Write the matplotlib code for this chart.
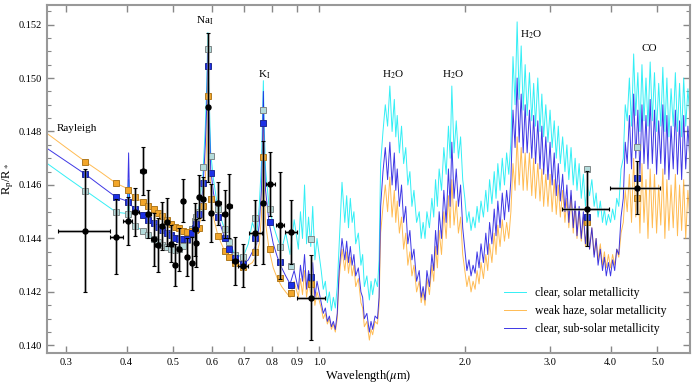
import numpy as np
import matplotlib
matplotlib.use("Agg")
import matplotlib.pyplot as plt
from matplotlib.ticker import FixedLocator, MultipleLocator, FormatStrFormatter

plt.rcParams['font.family'] = ['Liberation Serif', 'DejaVu Serif']
plt.rcParams['mathtext.fontset'] = 'stix'

# observed transit depths (black points)
obs_wl = [0.329, 0.381, 0.402, 0.417, 0.432, 0.444, 0.455, 0.464, 0.474, 0.485,
          0.494, 0.504, 0.514, 0.524, 0.533, 0.545, 0.553, 0.558, 0.565, 0.576,
          0.590, 0.598, 0.618, 0.638, 0.652, 0.671, 0.697, 0.738, 0.767, 0.792,
          0.832, 0.875, 0.964, 3.57, 4.53]
obs_rp = [0.14429, 0.14407, 0.14465, 0.14500, 0.14652, 0.14492, 0.14397, 0.14376, 0.14447, 0.14461,
          0.14381, 0.14301, 0.14360, 0.14541, 0.14330, 0.14307, 0.14434, 0.14382, 0.14556, 0.14549,
          0.14890, 0.14495, 0.14532, 0.14492, 0.14520, 0.14316, 0.14298, 0.14422, 0.14533, 0.14604,
          0.14450, 0.14425, 0.14179, 0.14511, 0.14590]
obs_err = [0.0023, 0.0014, 0.0009, 0.0009, 0.0009, 0.0009, 0.0010, 0.0010, 0.0009, 0.0009,
           0.0007, 0.0008, 0.0008, 0.0008, 0.0007, 0.0010, 0.0010, 0.0009, 0.0008, 0.0008,
           0.0028, 0.0011, 0.0008, 0.0009, 0.0012, 0.0009, 0.0008, 0.0012, 0.0023, 0.0012,
           0.0020, 0.0012, 0.0016, 0.0014, 0.0010]
obs_wl_err = [0.040, 0.012, 0.008, 0.007, 0.006, 0.005, 0.005, 0.005, 0.005, 0.005,
              0.005, 0.005, 0.005, 0.005, 0.005, 0.005, 0.004, 0.004, 0.004, 0.005,
              0.003, 0.005, 0.008, 0.008, 0.008, 0.010, 0.017, 0.023, 0.005, 0.017,
              0.016, 0.024, 0.062, 0.40, 0.54]

# binned models at the data wavelengths
bin_clear = [0.14579, 0.14498, 0.14492, 0.14447, 0.14429, 0.14413, 0.14398, 0.14388, 0.14376, 0.14367,
             0.14362, 0.14357, 0.14360, 0.14372, 0.14395, 0.14436, 0.14465, 0.14480, 0.14500, 0.14666,
             0.15108, 0.14708, 0.14510, 0.14434, 0.14386, 0.14338, 0.14332, 0.14475, 0.14879, 0.14509,
             0.14369, 0.14298, 0.14397, 0.14660, 0.14741]
bin_haze = [0.14687, 0.14606, 0.14581, 0.14554, 0.14536, 0.14521, 0.14509, 0.14496, 0.14484, 0.14469,
            0.14453, 0.14444, 0.14438, 0.14429, 0.14425, 0.14428, 0.14432, 0.14436, 0.14438, 0.14521,
            0.14932, 0.14548, 0.14410, 0.14353, 0.14330, 0.14310, 0.14295, 0.14348, 0.14704, 0.14361,
            0.14253, 0.14197, 0.14230, 0.14460, 0.14550]
bin_sub = [0.14640, 0.14554, 0.14538, 0.14509, 0.14487, 0.14469, 0.14459, 0.14444, 0.14432, 0.14422,
           0.14412, 0.14402, 0.14397, 0.14397, 0.14399, 0.14419, 0.14440, 0.14455, 0.14490, 0.14606,
           0.15045, 0.14644, 0.14481, 0.14401, 0.14360, 0.14326, 0.14305, 0.14400, 0.14833, 0.14463,
           0.14313, 0.14226, 0.14257, 0.14481, 0.14625]

# model spectra
model_wl = [0.274, 0.300, 0.329, 0.355, 0.381, 0.398, 0.402, 0.404, 0.406, 0.417,
            0.432, 0.444, 0.455, 0.464, 0.474, 0.485, 0.494, 0.504, 0.514, 0.524,
            0.533, 0.545, 0.555, 0.565, 0.575, 0.582, 0.586, 0.589, 0.592, 0.597,
            0.605, 0.618, 0.638, 0.652, 0.671, 0.697,
            0.714, 0.728, 0.743, 0.752, 0.760, 0.764, 0.767, 0.770, 0.775, 0.788,
            0.804, 0.820, 0.837, 0.853, 0.871, 0.888,
            0.906, 0.915, 0.924, 0.933, 0.942, 0.951, 0.961, 0.970, 0.980, 0.990,
            1.00, 1.01, 1.02, 1.03, 1.04, 1.05, 1.06, 1.07, 1.08, 1.09,
            1.10, 1.115, 1.13, 1.14, 1.15, 1.16, 1.17, 1.18, 1.19, 1.205,
            1.22, 1.23, 1.24, 1.255, 1.27, 1.28, 1.29, 1.305, 1.32, 1.33,
            1.34, 1.355, 1.37, 1.385, 1.40, 1.415, 1.43, 1.44, 1.45, 1.465,
            1.48, 1.495, 1.51, 1.525, 1.54, 1.555, 1.57, 1.59, 1.61, 1.625,
            1.64, 1.655, 1.67, 1.69, 1.71, 1.725, 1.74, 1.755, 1.77, 1.79,
            1.81, 1.83, 1.85, 1.865, 1.88, 1.90, 1.92, 1.94, 1.96, 1.98,
            2.00, 2.02, 2.04, 2.06, 2.08, 2.10, 2.12, 2.14, 2.16, 2.185,
            2.21, 2.23, 2.25, 2.275, 2.30, 2.32, 2.34, 2.365, 2.39, 2.415,
            2.44, 2.465, 2.49, 2.515, 2.54, 2.565, 2.59, 2.615, 2.64, 2.665,
            2.69, 2.72, 2.75, 2.775, 2.80, 2.83, 2.86, 2.885, 2.91, 2.94,
            2.97, 3.00, 3.03, 3.06, 3.09, 3.12, 3.15, 3.185, 3.22, 3.25,
            3.28, 3.315, 3.35, 3.38, 3.41, 3.445, 3.48, 3.515, 3.55, 3.585,
            3.62, 3.66, 3.70, 3.735, 3.77, 3.81, 3.85, 3.885, 3.92, 3.96,
            4.00, 4.04, 4.08, 4.12, 4.16, 4.205, 4.25, 4.29, 4.33, 4.375,
            4.42, 4.465, 4.51, 4.555, 4.60, 4.645, 4.69, 4.735, 4.78, 4.83,
            4.88, 4.93, 4.98, 5.03, 5.08, 5.13, 5.18, 5.23, 5.28, 5.335,
            5.39, 5.445, 5.50, 5.555, 5.61, 5.665, 5.72, 5.78, 5.84]

model_clear = [0.14681, 0.14630, 0.14579, 0.14537, 0.14498, 0.14494, 0.14492, 0.14620, 0.14470, 0.14447,
               0.14429, 0.14413, 0.14398, 0.14388, 0.14376, 0.14367, 0.14362, 0.14357, 0.14360, 0.14372,
               0.14395, 0.14436, 0.14470, 0.14520, 0.14630, 0.14820, 0.14980, 0.15170, 0.14970, 0.14720,
               0.14620, 0.14510, 0.14434, 0.14386, 0.14338, 0.14332,
               0.1438, 0.1446, 0.1441, 0.1452, 0.1468, 0.1485, 0.1499, 0.1482, 0.1466, 0.1452,
               0.1445, 0.1440, 0.1436, 0.1442, 0.1434, 0.1447,
               0.1436, 0.1450, 0.1440, 0.1460, 0.1438, 0.1448, 0.1437, 0.1452, 0.1432, 0.1440,
               0.1434, 0.1428, 0.1421, 0.1424, 0.1416, 0.1420, 0.1413, 0.1418, 0.1414, 0.1422,
               0.1438, 0.1461, 0.1446, 0.1456, 0.1444, 0.1455, 0.1446, 0.1450, 0.1438, 0.1442,
               0.1430, 0.1434, 0.1422, 0.1426, 0.1417, 0.1424, 0.1419, 0.1425, 0.1422, 0.1432,
               0.1468, 0.1480, 0.1490, 0.1482, 0.1497, 0.1480, 0.1492, 0.1478, 0.1486, 0.1472,
               0.1482, 0.1468, 0.1474, 0.1460, 0.1465, 0.1452, 0.1458, 0.1446, 0.1450, 0.1440,
               0.1446, 0.1440, 0.1450, 0.1444, 0.1455, 0.1448, 0.1462, 0.1452, 0.1466, 0.1458,
               0.1474, 0.1464, 0.1482, 0.1470, 0.1497, 0.1472, 0.1484, 0.1470, 0.1478, 0.1462,
               0.1455, 0.1446, 0.1450, 0.1443, 0.1448, 0.1444, 0.1452, 0.1446, 0.1454, 0.1448,
               0.1458, 0.1450, 0.1462, 0.1453, 0.1465, 0.1455, 0.1468, 0.1458, 0.1470, 0.1460,
               0.1472, 0.1464, 0.1476, 0.1508, 0.1490, 0.1521, 0.1492, 0.1512, 0.1488, 0.1505,
               0.1486, 0.1502, 0.1484, 0.1498, 0.1482, 0.1500, 0.1480, 0.1494, 0.1478, 0.1490,
               0.1476, 0.1488, 0.1474, 0.1484, 0.1470, 0.1482, 0.1468, 0.1478, 0.1465, 0.1475,
               0.1462, 0.1474, 0.1460, 0.1470, 0.1458, 0.1468, 0.1455, 0.1464, 0.1452, 0.1460,
               0.1456, 0.1462, 0.1452, 0.1457, 0.1448, 0.1454, 0.1446, 0.1451, 0.1445, 0.1449,
               0.1446, 0.1451, 0.1447, 0.1455, 0.1452, 0.1466, 0.1470, 0.1490, 0.1484, 0.1500,
               0.1482, 0.1509, 0.1486, 0.1502, 0.1480, 0.1505, 0.1484, 0.1500, 0.1482, 0.1506,
               0.1484, 0.1502, 0.1480, 0.1498, 0.1482, 0.1504, 0.1480, 0.1500, 0.1478, 0.1496,
               0.1482, 0.1502, 0.1480, 0.1498, 0.1478, 0.1500, 0.1482, 0.1496, 0.1484]

model_haze = [0.14793, 0.14740, 0.14687, 0.14646, 0.14606, 0.14590, 0.14581, 0.14577, 0.14573, 0.14554,
              0.14536, 0.14521, 0.14509, 0.14496, 0.14484, 0.14469, 0.14453, 0.14444, 0.14438, 0.14429,
              0.14425, 0.14428, 0.14436, 0.14450, 0.14500, 0.14620, 0.14780, 0.15000, 0.14780, 0.14580,
              0.14480, 0.14410, 0.14353, 0.14330, 0.14310, 0.14295,
              0.1430, 0.1431, 0.1434, 0.1438, 0.1448, 0.1465, 0.1485, 0.1462, 0.1446, 0.1436,
              0.1429, 0.1425, 0.1422, 0.1420, 0.1418, 0.1424,
              0.1418, 0.1425, 0.1419, 0.1428, 0.1418, 0.1424, 0.1419, 0.1426, 0.1415, 0.1420,
              0.1417, 0.1414, 0.1410, 0.1412, 0.1408, 0.1410, 0.1406, 0.1408, 0.1405, 0.1410,
              0.1425, 0.1436, 0.1428, 0.1435, 0.1427, 0.1433, 0.1426, 0.1430, 0.1422, 0.1425,
              0.1416, 0.1414, 0.1407, 0.1409, 0.1402, 0.1406, 0.1404, 0.1409, 0.1408, 0.1415,
              0.1442, 0.1452, 0.1460, 0.1450, 0.1463, 0.1448, 0.1458, 0.1446, 0.1454, 0.1442,
              0.1448, 0.1436, 0.1442, 0.1430, 0.1435, 0.1426, 0.1430, 0.1420, 0.1424, 0.1416,
              0.1420, 0.1415, 0.1425, 0.1419, 0.1430, 0.1424, 0.1437, 0.1429, 0.1443, 0.1434,
              0.1450, 0.1440, 0.1456, 0.1444, 0.1462, 0.1445, 0.1454, 0.1442, 0.1448, 0.1434,
              0.1428, 0.1422, 0.1426, 0.1420, 0.1424, 0.1421, 0.1428, 0.1423, 0.1431, 0.1425,
              0.1434, 0.1428, 0.1438, 0.1431, 0.1442, 0.1434, 0.1445, 0.1437, 0.1447, 0.1439,
              0.1446, 0.1440, 0.1450, 0.1468, 0.1458, 0.1478, 0.1460, 0.1474, 0.1458, 0.1472,
              0.1458, 0.1472, 0.1456, 0.1470, 0.1455, 0.1468, 0.1454, 0.1466, 0.1452, 0.1464,
              0.1452, 0.1464, 0.1450, 0.1462, 0.1449, 0.1460, 0.1448, 0.1458, 0.1446, 0.1455,
              0.1444, 0.1456, 0.1442, 0.1452, 0.1440, 0.1450, 0.1439, 0.1448, 0.1437, 0.1445,
              0.1436, 0.1444, 0.1434, 0.1440, 0.1432, 0.1438, 0.1430, 0.1435, 0.1429, 0.1434,
              0.1429, 0.1434, 0.1430, 0.1436, 0.1433, 0.1442, 0.1446, 0.1458, 0.1450, 0.1464,
              0.1446, 0.1470, 0.1448, 0.1464, 0.1442, 0.1468, 0.1446, 0.1462, 0.1440, 0.1466,
              0.1444, 0.1464, 0.1442, 0.1460, 0.1445, 0.1466, 0.1440, 0.1462, 0.1443, 0.1460,
              0.1444, 0.1464, 0.1441, 0.1460, 0.1443, 0.1462, 0.1440, 0.1458, 0.1446]

model_sub = [0.14737, 0.14689, 0.14640, 0.14595, 0.14554, 0.14542, 0.14538, 0.14720, 0.14530, 0.14509,
             0.14487, 0.14469, 0.14459, 0.14444, 0.14432, 0.14422, 0.14412, 0.14402, 0.14397, 0.14397,
             0.14399, 0.14419, 0.14447, 0.14490, 0.14580, 0.14750, 0.14900, 0.15120, 0.14900, 0.14660,
             0.14570, 0.14481, 0.14401, 0.14360, 0.14326, 0.14305,
             0.1432, 0.1435, 0.1438, 0.1445, 0.1458, 0.1475, 0.1495, 0.1474, 0.1458, 0.1446,
             0.1438, 0.1433, 0.1429, 0.1426, 0.1423, 0.1428,
             0.1421, 0.1430, 0.1424, 0.1434, 0.1421, 0.1428, 0.1423, 0.1431, 0.1418, 0.1424,
             0.1420, 0.1416, 0.1412, 0.1414, 0.1409, 0.1411, 0.1407, 0.1409, 0.1406, 0.1412,
             0.1428, 0.1440, 0.1432, 0.1439, 0.1431, 0.1437, 0.1430, 0.1434, 0.1426, 0.1429,
             0.1420, 0.1418, 0.1410, 0.1412, 0.1405, 0.1409, 0.1406, 0.1411, 0.1410, 0.1418,
             0.1452, 0.1465, 0.1474, 0.1462, 0.1476, 0.1460, 0.1472, 0.1458, 0.1466, 0.1452,
             0.1460, 0.1446, 0.1452, 0.1438, 0.1443, 0.1432, 0.1436, 0.1424, 0.1428, 0.1418,
             0.1422, 0.1417, 0.1428, 0.1422, 0.1434, 0.1428, 0.1443, 0.1434, 0.1450, 0.1440,
             0.1458, 0.1446, 0.1466, 0.1452, 0.1476, 0.1455, 0.1466, 0.1452, 0.1460, 0.1444,
             0.1436, 0.1428, 0.1432, 0.1426, 0.1430, 0.1427, 0.1435, 0.1429, 0.1438, 0.1431,
             0.1442, 0.1434, 0.1446, 0.1438, 0.1451, 0.1441, 0.1454, 0.1444, 0.1457, 0.1447,
             0.1458, 0.1450, 0.1462, 0.1488, 0.1474, 0.1500, 0.1476, 0.1494, 0.1472, 0.1490,
             0.1472, 0.1488, 0.1470, 0.1486, 0.1468, 0.1484, 0.1466, 0.1482, 0.1464, 0.1478,
             0.1462, 0.1476, 0.1460, 0.1472, 0.1456, 0.1468, 0.1454, 0.1464, 0.1450, 0.1460,
             0.1446, 0.1458, 0.1444, 0.1454, 0.1441, 0.1452, 0.1440, 0.1450, 0.1438, 0.1446,
             0.1436, 0.1444, 0.1433, 0.1440, 0.1430, 0.1436, 0.1428, 0.1433, 0.1426, 0.1431,
             0.1426, 0.1432, 0.1428, 0.1436, 0.1434, 0.1448, 0.1455, 0.1476, 0.1468, 0.1486,
             0.1466, 0.1494, 0.1470, 0.1488, 0.1464, 0.1490, 0.1468, 0.1486, 0.1466, 0.1492,
             0.1468, 0.1488, 0.1464, 0.1484, 0.1468, 0.1490, 0.1464, 0.1486, 0.1462, 0.1482,
             0.1466, 0.1488, 0.1464, 0.1484, 0.1462, 0.1486, 0.1466, 0.1482, 0.1468]

# feature labels
label_text = ['Rayleigh', r'Na$_\mathrm{I}$', r'K$_\mathrm{I}$', r'H$_2$O', r'H$_2$O', r'H$_2$O', 'CO']
label_wl = [0.316, 0.581, 0.770, 1.42, 1.89, 2.74, 4.80]
label_rp = [0.14813, 0.15213, 0.15011, 0.15011, 0.15011, 0.15161, 0.15112]

xticks = [0.3, 0.4, 0.5, 0.6, 0.7, 0.8, 0.9, 1.0, 2.0, 3.0, 4.0, 5.0]

fig = plt.figure(figsize=(6.96, 3.85), dpi=100)
ax = fig.add_axes([0.0675, 0.084, 0.924, 0.903])

ax.plot(model_wl, model_clear, color='#10ecf4', lw=0.7, alpha=0.85, label='clear, solar metallicity')
ax.plot(model_wl, model_haze, color='#ffa51a', lw=0.7, alpha=0.75, label='weak haze, solar metallicity')
ax.plot(model_wl, model_sub, color='#1c14e0', lw=0.7, alpha=0.85, label='clear, sub-solar metallicity')

ax.plot(obs_wl, bin_clear, 's', ms=4, mfc='#b4dcdc', mec='#808888', mew=0.7, ls='none')
ax.plot(obs_wl, bin_haze, 's', ms=4, mfc='#f2a62a', mec='#b07a20', mew=0.7, ls='none')
ax.plot(obs_wl, bin_sub, 's', ms=4, mfc='#1c30e6', mec='#202a90', mew=0.7, ls='none')

# data: grey halo under black bars
ax.errorbar(obs_wl, obs_rp, yerr=obs_err, xerr=obs_wl_err, fmt='none',
            ecolor='#808080', elinewidth=2.2, alpha=0.6, capsize=0)
ax.errorbar(obs_wl, obs_rp, yerr=obs_err, xerr=obs_wl_err, fmt='o', ms=3.6,
            color='k', ecolor='k', elinewidth=0.8, capsize=1.5, capthick=0.8)

for t, xw, yv in zip(label_text, label_wl, label_rp):
    ax.text(xw, yv, t, fontsize=8, ha='center', va='center')

ax.set_xscale('log')
ax.set_xlim(0.274, 5.84)
ax.set_ylim(0.13973, 0.15273)
ax.xaxis.set_major_locator(FixedLocator(xticks))
ax.xaxis.set_minor_locator(FixedLocator([]))
ax.set_xticklabels(['%.1f' % v for v in xticks])
ax.yaxis.set_major_locator(MultipleLocator(0.002))
ax.yaxis.set_minor_locator(MultipleLocator(0.0005))
ax.yaxis.set_major_formatter(FormatStrFormatter('%.3f'))

ax.tick_params(which='both', direction='in', top=True, right=True, color='#888888', labelsize=7.5)
ax.tick_params(which='major', length=5, width=1)
ax.tick_params(which='minor', length=3, width=0.8)
for s in ax.spines.values():
    s.set_color('#999999')
    s.set_linewidth(1.5)

ax.set_xlabel(r'Wavelength($\mu$m)', fontsize=9, labelpad=1)
ax.set_ylabel(r'R$_\mathrm{p}$/R$_*$', fontsize=9, labelpad=2)

ax.legend(loc='lower right', frameon=False, fontsize=8.5, handlelength=1.8,
          bbox_to_anchor=(0.98, 0.02))

fig.savefig('out.png', dpi=100)
